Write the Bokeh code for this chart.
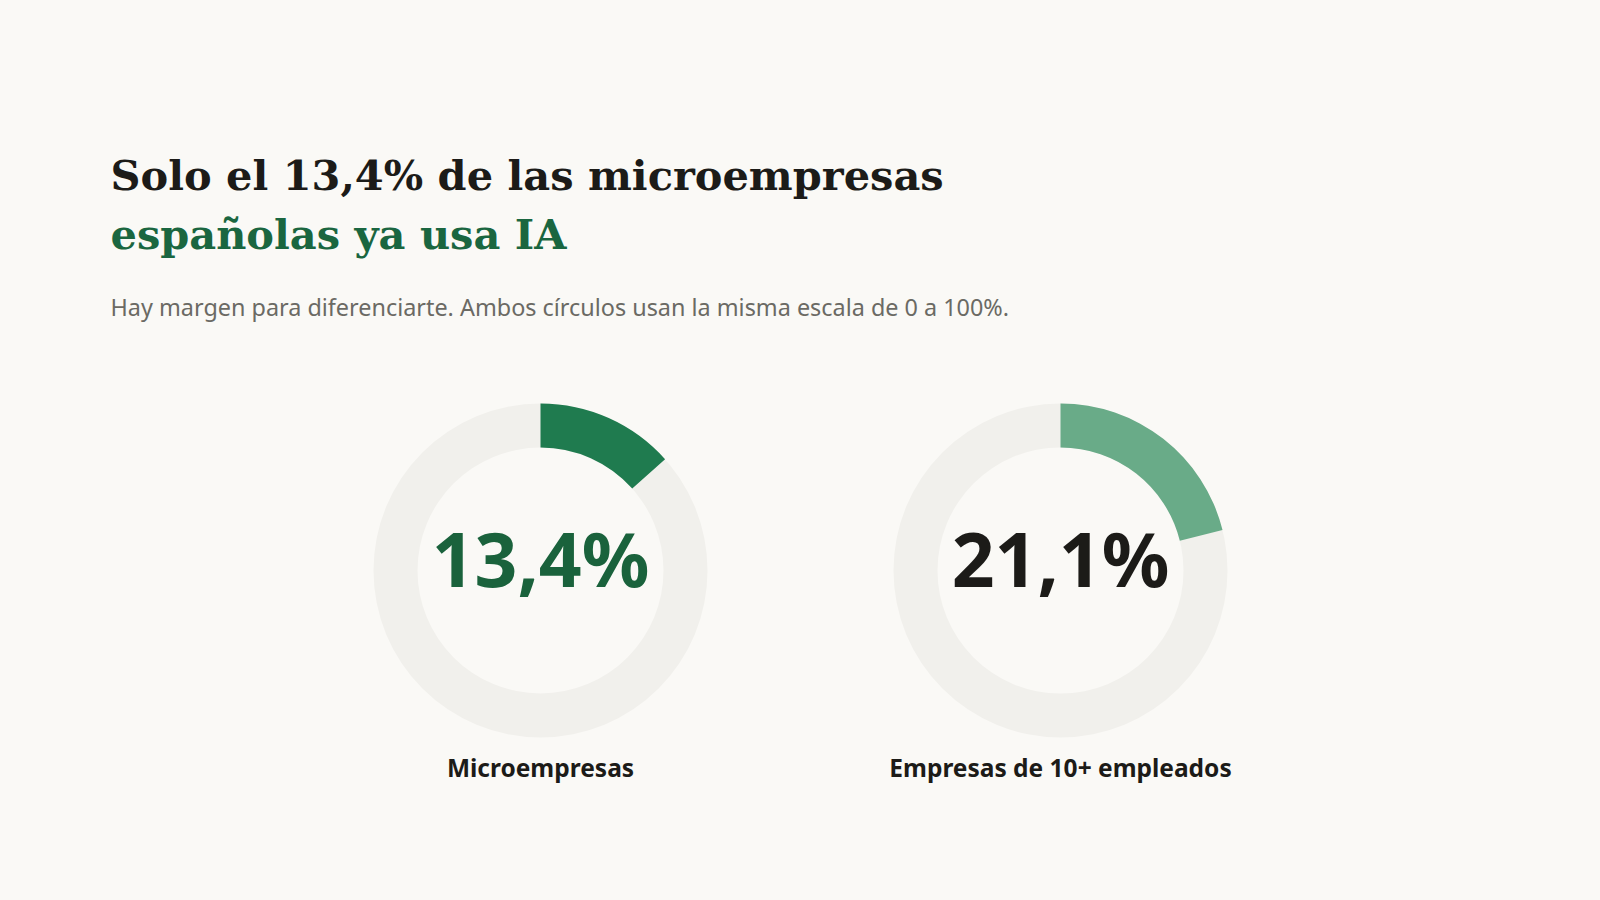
import math
from bokeh.plotting import figure
from bokeh.models import Range1d, ColumnDataSource
from bokeh.core.properties import value
from bokeh.embed import file_html
from bokeh.resources import INLINE

# data
categories = ["Microempresas", "Empresas de 10+ empleados"]
shares = [13.4, 21.1]
share_labels = [f"{v:.1f}".replace(".", ",") + "%" for v in shares]

title_1 = "Solo el 13,4% de las microempresas"
title_2 = "españolas ya usa IA"
subtitle = "Hay margen para diferenciarte. Ambos círculos usan la misma escala de 0 a 100%."

# styles
BG = "#faf9f6"
TRACK = "#f1f0ec"
arc_colors = ["#1f7b4f", "#69ab88"]
number_colors = ["#1a623c", "#1c1b18"]
INK = "#1c1b18"
GREEN = "#1a6640"

W, H = 1584, 884
p = figure(width=W, height=H, x_range=Range1d(0, W), y_range=Range1d(0, H),
           output_backend="svg", toolbar_location=None, min_border=0)
p.axis.visible = False
p.grid.visible = False
p.outline_line_color = None
p.background_fill_color = BG
p.border_fill_color = BG

# screen pixel -> data
def py(y):
    return H - y

# text baseline y, corrected for how the svg text gets placed
def ty(y, size):
    return H - (y - 0.42 * size)

centers_x = [540, 1060]
cy = py(570)
r_out, r_in = 167, 123
NUM_SIZE, LAB_SIZE = 75, 24.5

src = ColumnDataSource(dict(
    x=centers_x,
    y=[cy, cy],
    start=[math.pi / 2 - s / 100 * 2 * math.pi for s in shares],
    end=[math.pi / 2] * 2,
    color=arc_colors,
    num_color=number_colors,
    label=share_labels,
    cat=categories,
    ny=[ty(589, NUM_SIZE)] * 2,
    ly=[ty(777, LAB_SIZE)] * 2,
))

p.annulus(x="x", y="y", inner_radius=r_in, outer_radius=r_out, source=src,
          fill_color=TRACK, line_color=None)
p.annular_wedge(x="x", y="y", inner_radius=r_in, outer_radius=r_out,
                start_angle="start", end_angle="end", direction="anticlock",
                source=src, fill_color="color", line_color=None)

p.text(x="x", y="ny", text="label", source=src, text_color="num_color",
       text_font=value("Noto Sans"), text_font_style="bold",
       text_font_size=f"{NUM_SIZE}px", text_align="center", text_baseline="alphabetic")
p.text(x="x", y="ly", text="cat", source=src, text_color=INK,
       text_font=value("Noto Sans"), text_font_style="bold",
       text_font_size=f"{LAB_SIZE}px", text_align="center", text_baseline="alphabetic")

# titles
TSIZE, SSIZE = 41.5, 23.4
p.text(x=[110], y=[ty(192, TSIZE)], text=[title_1], text_color=INK,
       text_font=value("DejaVu Serif"), text_font_style="bold",
       text_font_size=f"{TSIZE}px", text_baseline="alphabetic")
p.text(x=[110], y=[ty(251, TSIZE)], text=[title_2], text_color=GREEN,
       text_font=value("DejaVu Serif"), text_font_style="bold",
       text_font_size=f"{TSIZE}px", text_baseline="alphabetic")
p.text(x=[110], y=[ty(316, SSIZE)], text=[subtitle], text_color="#6b6a64",
       text_font=value("Noto Sans"), text_font_size=f"{SSIZE}px",
       text_baseline="alphabetic")

html = file_html(p, INLINE)
html = html.replace("</head>", "<style>html,body{background:%s}</style></head>" % BG, 1)
open("out.html", "w").write(html)
